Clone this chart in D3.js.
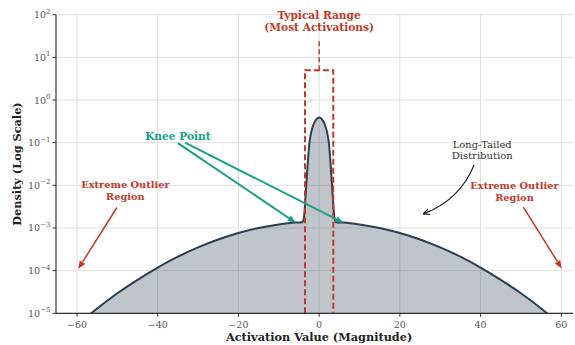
<!DOCTYPE html>
<html>
<head>
<meta charset="utf-8">
<script src="https://cdn.jsdelivr.net/npm/d3@7"></script>
<style>
  body { margin: 0; background: #fff; overflow: hidden; }
  svg { display: block; font-family: "DejaVu Serif", serif; }
</style>
</head>
<body>
<svg id="chart" width="575" height="345"></svg>
<script>
// density curve (wide tail + narrow central peak)
var xVals = [-60, -55, -50, -45, -40, -35, -30, -25, -20, -15, -10, -6, -4.2, -3.8, -3.5, -3.2, -2.8, -2.4, -2, -1.5, -1, -0.5, 0,
             0.5, 1, 1.5, 2, 2.4, 2.8, 3.2, 3.5, 3.8, 4.2, 6, 10, 15, 20, 25, 30, 35, 40, 45, 50, 55, 60];
var density = [5.3e-6, 1.3e-5, 2.95e-5, 6.1e-5, 1.18e-4, 2.12e-4, 3.5e-4, 5.36e-4, 7.6e-4, 1.0e-3, 1.21e-3, 1.34e-3, 1.37e-3, 1.65e-3, 3.5e-3, 1.0e-2, 3.5e-2, 0.1, 0.17, 0.25, 0.32, 0.37, 0.39,
               0.37, 0.32, 0.25, 0.17, 0.1, 3.5e-2, 1.0e-2, 3.5e-3, 1.65e-3, 1.37e-3, 1.34e-3, 1.21e-3, 1.0e-3, 7.6e-4, 5.36e-4, 3.5e-4, 2.12e-4, 1.18e-4, 6.1e-5, 2.95e-5, 1.3e-5, 5.3e-6];

var xTicks = [-60, -40, -20, 0, 20, 40, 60];
var yTicks = [-5, -4, -3, -2, -1, 0, 1, 2]; // powers of ten

var typicalRange = [-3.5, 3.5];
var typicalTop = 5;

var red = "#c0392b", teal = "#16a085", navy = "#2c3e50";

var svg = d3.select("#chart");
var pLeft = 56, pRight = 573, pTop = 14.7, pBottom = 313.3;

var x = d3.scaleLinear().domain([-65.2, 62.9]).range([pLeft, pRight]);
var y = d3.scaleLog().domain([1e-5, 1e2]).range([pBottom, pTop]);

svg.append("defs").append("clipPath").attr("id", "clip")
  .append("rect").attr("x", pLeft).attr("y", pTop).attr("width", pRight - pLeft).attr("height", pBottom - pTop);

// grid
var grid = svg.append("g").attr("stroke", "#e0e0e0").attr("stroke-width", 1);
grid.selectAll(".gx").data(xTicks).enter().append("line")
  .attr("x1", d => x(d)).attr("x2", d => x(d)).attr("y1", pTop).attr("y2", pBottom);
grid.selectAll(".gy").data(yTicks).enter().append("line")
  .attr("x1", pLeft).attr("x2", pRight).attr("y1", d => y(Math.pow(10, d))).attr("y2", d => y(Math.pow(10, d)));

var pts = xVals.map((v, i) => [v, density[i]]);
var plot = svg.append("g").attr("clip-path", "url(#clip)");

plot.append("path").datum(pts)
  .attr("fill", navy).attr("fill-opacity", 0.3)
  .attr("d", d3.area().x(d => x(d[0])).y0(pBottom).y1(d => y(d[1])).curve(d3.curveMonotoneX));
plot.append("path").datum(pts)
  .attr("fill", "none").attr("stroke", navy).attr("stroke-width", 2)
  .attr("d", d3.line().x(d => x(d[0])).y(d => y(d[1])).curve(d3.curveMonotoneX));

// typical range box
svg.append("path")
  .attr("fill", "none").attr("stroke", red).attr("stroke-width", 2).attr("stroke-dasharray", "6,3")
  .attr("d", "M" + x(typicalRange[0]) + "," + pBottom + "V" + y(typicalTop) + "H" + x(typicalRange[1]) + "V" + pBottom);
svg.append("line")
  .attr("x1", x(0)).attr("x2", x(0)).attr("y1", y(typicalTop)).attr("y2", y(26))
  .attr("stroke", red).attr("stroke-width", 1.5).attr("stroke-dasharray", "5,3");

// axes spines
svg.append("line").attr("x1", pLeft).attr("x2", pLeft).attr("y1", pTop).attr("y2", pBottom).attr("stroke", "#333").attr("stroke-width", 1.2);
svg.append("line").attr("x1", pLeft).attr("x2", pRight).attr("y1", pBottom).attr("y2", pBottom).attr("stroke", "#333").attr("stroke-width", 1.2);

var xt = svg.append("g");
xt.selectAll("line").data(xTicks).enter().append("line")
  .attr("x1", d => x(d)).attr("x2", d => x(d)).attr("y1", pBottom).attr("y2", pBottom + 3.5).attr("stroke", "#333");
xt.selectAll("text").data(xTicks).enter().append("text")
  .attr("x", d => x(d)).attr("y", pBottom + 15).attr("text-anchor", "middle")
  .attr("font-size", 9.5).attr("fill", "#555")
  .text(d => d < 0 ? "\u2212" + Math.abs(d) : d);

var yt = svg.append("g");
yt.selectAll("line").data(yTicks).enter().append("line")
  .attr("x1", pLeft - 3.5).attr("x2", pLeft).attr("y1", d => y(Math.pow(10, d))).attr("y2", d => y(Math.pow(10, d))).attr("stroke", "#333");
yt.selectAll("text").data(yTicks).enter().append("text")
  .attr("x", pLeft - 5.5).attr("y", d => y(Math.pow(10, d)) + 3.5).attr("text-anchor", "end")
  .attr("font-size", 9.5).attr("fill", "#555")
  .each(function(d) {
    var t = d3.select(this);
    t.append("tspan").text("10");
    t.append("tspan").attr("dy", -4.5).attr("font-size", 7).text(d < 0 ? "\u2212" + Math.abs(d) : d);
  });

svg.append("text").attr("x", x(0)).attr("y", 341).attr("text-anchor", "middle")
  .attr("font-size", 11.3).attr("font-weight", "bold").attr("fill", "#222")
  .text("Activation Value (Magnitude)");
svg.append("text").attr("transform", "translate(21," + ((pTop + pBottom) / 2) + ") rotate(-90)")
  .attr("text-anchor", "middle").attr("font-size", 11.3).attr("font-weight", "bold").attr("fill", "#222")
  .text("Density (Log Scale)");

// annotations (data coords)
function label(lines, px, logs, color, bold, size) {
  lines.forEach((s, i) => {
    svg.append("text").attr("x", x(px)).attr("y", y(Math.pow(10, logs[i])))
      .attr("text-anchor", "middle").attr("font-size", size).attr("fill", color)
      .attr("font-weight", bold ? "bold" : "normal").text(s);
  });
}
function arrow(x0, l0, x1, l1, color, w) {
  var ax = x(x0), ay = y(Math.pow(10, l0)), bx = x(x1), by = y(Math.pow(10, l1));
  var a = Math.atan2(by - ay, bx - ax), hl = 8, hw = 3.2;
  var baseX = bx - hl * Math.cos(a), baseY = by - hl * Math.sin(a);
  svg.append("line").attr("x1", ax).attr("y1", ay).attr("x2", baseX).attr("y2", baseY)
    .attr("stroke", color).attr("stroke-width", w);
  svg.append("path").attr("fill", color)
    .attr("d", "M" + bx + "," + by + "L" + (baseX - hw * Math.sin(a)) + "," + (baseY + hw * Math.cos(a)) +
      "L" + (baseX + hw * Math.sin(a)) + "," + (baseY - hw * Math.cos(a)) + "Z");
}

label(["Typical Range", "(Most Activations)"], 0, [1.9, 1.62], red, true, 10.6);

label(["Knee Point"], -35, [-0.94], teal, true, 10.6);
arrow(-35, -1.01, -5.8, -2.876, teal, 2);
arrow(-33.2, -1.0, 6.0, -2.876, teal, 2);

label(["Extreme Outlier", "Region"], -48, [-2.06, -2.34], red, true, 9.8);
arrow(-50.1, -2.52, -59.7, -3.96, red, 1.5);
label(["Extreme Outlier", "Region"], 48.4, [-2.09, -2.37], red, true, 9.8);
arrow(50.6, -2.51, 60.1, -3.95, red, 1.5);

label(["Long-Tailed", "Distribution"], 40.4, [-1.13, -1.38], "#333", false, 10);
(function() {
  var ax = x(38.4), ay = y(Math.pow(10, -1.52)), bx = x(25.8), by = y(Math.pow(10, -2.67));
  var cx = 460, cy = 200;
  svg.append("path").attr("fill", "none").attr("stroke", "#111").attr("stroke-width", 1.2)
    .attr("d", "M" + ax + "," + ay + "Q" + cx + "," + cy + " " + bx + "," + by);
  var a = Math.atan2(by - cy, bx - cx), hl = 7;
  [0.45, -0.45].forEach(o => {
    svg.append("line").attr("x1", bx).attr("y1", by)
      .attr("x2", bx - hl * Math.cos(a + o)).attr("y2", by - hl * Math.sin(a + o))
      .attr("stroke", "#111").attr("stroke-width", 1.2);
  });
})();
</script>
</body>
</html>
